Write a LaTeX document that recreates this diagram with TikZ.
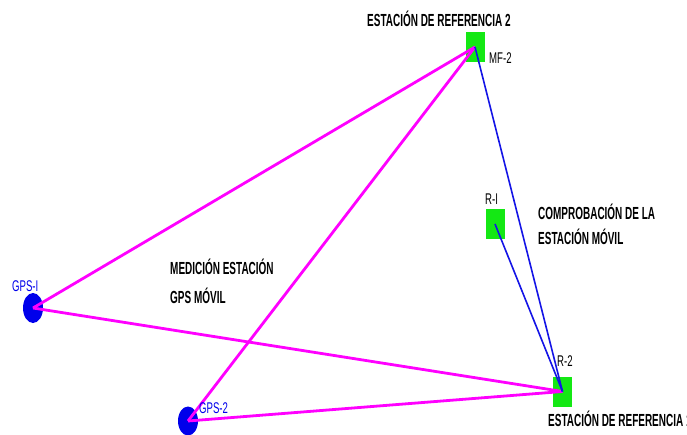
\documentclass[tikz,border=0pt]{standalone}
\usepackage{fontspec}
\setmainfont{Liberation Sans}
\newfontfamily\narrowfont[FakeStretch=0.57]{Liberation Sans}
\newfontfamily\tagfont[FakeStretch=0.62]{Liberation Sans}
\usetikzlibrary{shapes.geometric}

\definecolor{stgreen}{RGB}{20,232,20}
\definecolor{gpsblue}{RGB}{0,0,235}
\definecolor{survey}{RGB}{255,0,255}
\definecolor{checkline}{RGB}{20,20,230}

\tikzset{
  station/.style={rectangle, fill=stgreen, inner sep=0pt, minimum width=19pt, minimum height=30pt},
  receiver/.style={ellipse, fill=gpsblue, inner sep=0pt, minimum width=20pt, minimum height=30pt},
  caption/.style={font=\narrowfont\bfseries\fontsize{17.5}{19}\selectfont, inner sep=0pt, anchor=base west},
  tag/.style={font=\tagfont\fontsize{15.5}{17}\selectfont, inner sep=0pt, anchor=base west},
  gpstag/.style={tag, text=gpsblue},
  surveyline/.style={draw=survey, line width=2.8pt},
  checkpath/.style={draw=checkline, line width=1.6pt}
}

\begin{document}
\begin{tikzpicture}[x=1pt, y=-1pt]
\useasboundingbox (0,0) rectangle (687,435);
\clip (0,0) rectangle (687,435);

% stations
\node[station] (mf2) at (475,47) {};
\node[station] (r1) at (495,224) {};
\node[station] (r2) at (562.5,391.5) {};

% mobile GPS receivers
\node[receiver] (gps1) at (33,308) {};
\node[receiver, minimum height=29pt] (gps2) at (188,421) {};

% survey lines from the mobile receivers
\draw[surveyline] (gps1.center) -- (mf2.center);
\draw[surveyline] (gps1.center) -- (r2.center);
\draw[surveyline] (gps2.center) -- (mf2.center);
\draw[surveyline] (gps2.center) -- (r2.center);

% check lines
\draw[checkpath] (mf2.center) -- (r2.center);
\draw[checkpath] (r1.center) -- (r2.center);

% labels
\node[caption] (t2) at (367,27) {ESTACIÓN DE REFERENCIA 2};
\node[tag] (lmf2) at (489,64) {MF-2};
\node[tag] (lr1) at (485,205) {R-I};
\node[caption] (tc1) at (538,220) {COMPROBACIÓN DE LA};
\node[caption] (tc2) at (538,245) {ESTACIÓN MÓVIL};
\node[caption] (tm1) at (170,275) {MEDICIÓN ESTACIÓN};
\node[caption] (tm2) at (170,303) {GPS MÓVIL};
\node[tag] (lr2) at (557,366) {R-2};
\node[caption] (t1) at (548,426) {ESTACIÓN DE REFERENCIA 1};
\node[gpstag] (lg1) at (12,291) {GPS-I};
\node[gpstag] (lg2) at (199,413) {GPS-2};
\end{tikzpicture}
\end{document}
